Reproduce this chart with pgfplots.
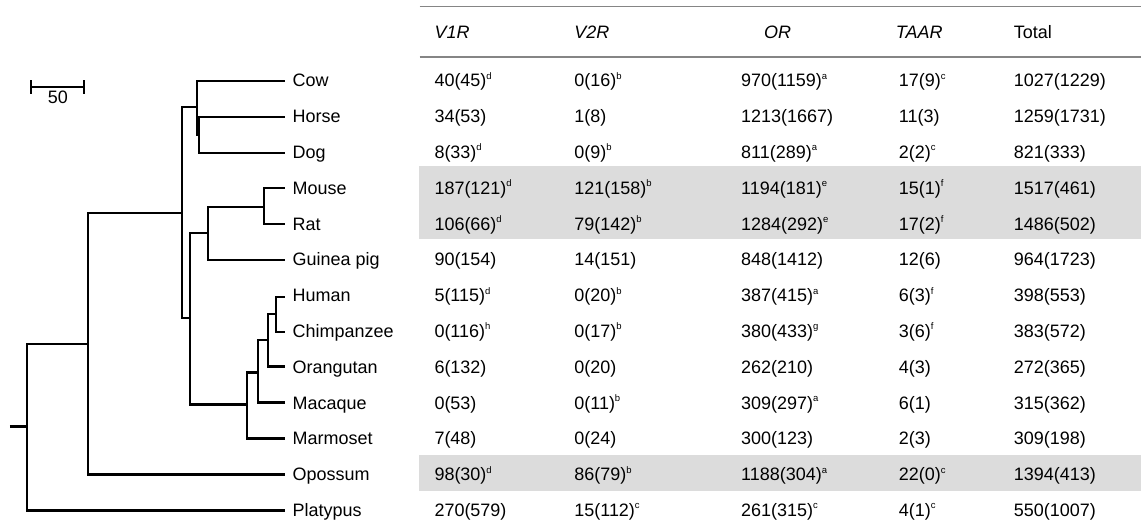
\documentclass[border=0pt]{standalone}
\usepackage{pgfplots}
\pgfplotsset{compat=1.18}
\usepackage{fontspec}
\setmainfont{Liberation Sans}
\definecolor{bandgray}{HTML}{DCDCDC}
\definecolor{rulegray}{HTML}{858585}
\tikzset{tn/.style={font=\fontsize{18bp}{21bp}\selectfont, inner sep=0pt, outer sep=0pt, anchor=base west}}
\newcommand\sps[1]{\raisebox{0.42em}{\fontsize{9.5bp}{10bp}\selectfont #1}}
\newcommand\TR[7]{%
  \node[tn] at (axis cs:293,#1) {#2};
  \node[tn] at (axis cs:435,#1) {#3};
  \node[tn] at (axis cs:575,#1) {#4};
  \node[tn] at (axis cs:742,#1) {#5};
  \node[tn] at (axis cs:900,#1) {#6};
  \node[tn] at (axis cs:1015,#1) {#7};}
\begin{document}
\begin{tikzpicture}
\begin{axis}[width=1142bp, height=526bp, scale only axis,
  xmin=0, xmax=1142, ymin=0, ymax=526, y dir=reverse,
  hide axis, clip=false, unbounded coords=jump]
% frame for bounding box
\addplot[draw=none, forget plot] coordinates {(0,0) (1142,526)};
% grey bands
\addplot[fill=bandgray, draw=none] coordinates {(419,166) (1142,166) (1142,239) (419,239)};
\addplot[fill=bandgray, draw=none] coordinates {(419,456) (1142,456) (1142,492) (419,492)};
% rules
\addplot[rulegray, line width=1bp] coordinates {(420,7) (1142,7)};
\addplot[rulegray, line width=2.6bp] coordinates {(420,57) (1142,57)};
% scale bar
\addplot[black, line width=2.2bp] coordinates {(31,87) (84,87) (nan,nan) (31,80.5) (31,94) (nan,nan) (84,80.5) (84,94)};
% tree
\addplot[black, line width=2.2bp, line join=miter] coordinates {
(10,427) (27,427) (nan,nan)
(88,344) (27,344) (27,511) (285,511) (nan,nan)
(182,213) (88,213) (88,475) (285,475) (nan,nan)
(197,107) (182,107) (182,318) (190,318) (nan,nan)
(208,233) (190,233) (190,405) (247,405) (nan,nan)
(285,81) (197,81) (197,135) (199,135) (nan,nan)
(285,117) (199,117) (199,153) (285,153) (nan,nan)
(264,207) (208,207) (208,260) (285,260) (nan,nan)
(285,188) (264,188) (264,224) (285,224) (nan,nan)
(258,373) (247,373) (247,439) (285,439) (nan,nan)
(268,340) (258,340) (258,403) (285,403) (nan,nan)
(276,314) (268,314) (268,367) (285,367) (nan,nan)
(285,297) (276,297) (276,332) (285,332)
};
\node[tn, anchor=base] at (axis cs:58,104) {50};
% header
\node[tn] at (axis cs:435,39) {\itshape V1R};
\node[tn] at (axis cs:575,39) {\itshape V2R};
\node[tn] at (axis cs:765,39) {\itshape OR};
\node[tn] at (axis cs:897,39) {\itshape TAAR};
\node[tn] at (axis cs:1015,39) {Total};
% rows
\TR{87}{Cow}{40(45)\sps{d}}{0(16)\sps{b}}{970(1159)\sps{a}}{17(9)\sps{c}}{1027(1229)}
\TR{122.8}{Horse}{34(53)}{1(8)}{1213(1667)}{11(3)}{1259(1731)}
\TR{158.7}{Dog}{8(33)\sps{d}}{0(9)\sps{b}}{811(289)\sps{a}}{2(2)\sps{c}}{821(333)}
\TR{194.5}{Mouse}{187(121)\sps{d}}{121(158)\sps{b}}{1194(181)\sps{e}}{15(1)\sps{f}}{1517(461)}
\TR{230.3}{Rat}{106(66)\sps{d}}{79(142)\sps{b}}{1284(292)\sps{e}}{17(2)\sps{f}}{1486(502)}
\TR{266.2}{Guinea pig}{90(154)}{14(151)}{848(1412)}{12(6)}{964(1723)}
\TR{302}{Human}{5(115)\sps{d}}{0(20)\sps{b}}{387(415)\sps{a}}{6(3)\sps{f}}{398(553)}
\TR{337.8}{Chimpanzee}{0(116)\sps{h}}{0(17)\sps{b}}{380(433)\sps{g}}{3(6)\sps{f}}{383(572)}
\TR{373.7}{Orangutan}{6(132)}{0(20)}{262(210)}{4(3)}{272(365)}
\TR{409.5}{Macaque}{0(53)}{0(11)\sps{b}}{309(297)\sps{a}}{6(1)}{315(362)}
\TR{445.3}{Marmoset}{7(48)}{0(24)}{300(123)}{2(3)}{309(198)}
\TR{481.1}{Opossum}{98(30)\sps{d}}{86(79)\sps{b}}{1188(304)\sps{a}}{22(0)\sps{c}}{1394(413)}
\TR{517}{Platypus}{270(579)}{15(112)\sps{c}}{261(315)\sps{c}}{4(1)\sps{c}}{550(1007)}
\end{axis}
\end{tikzpicture}
\end{document}
